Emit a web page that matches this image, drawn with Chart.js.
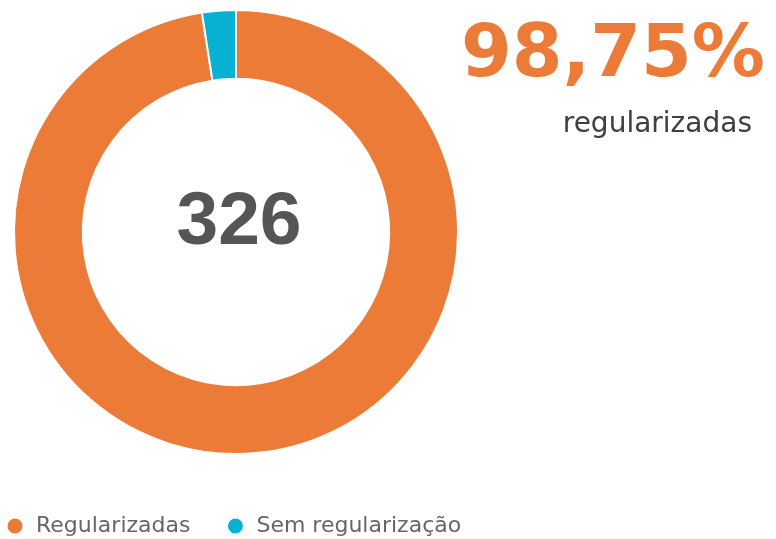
<!DOCTYPE html>
<html>
<head>
<meta charset="utf-8">
<script src="https://cdn.jsdelivr.net/npm/chart.js@4"></script>
<style>
  html, body { margin: 0; padding: 0; background: #fff; }
  body { width: 776px; height: 539px; overflow: hidden; position: relative; }
  #wrap { position: absolute; left: -30px; top: -16px; width: 532px; height: 563px; }
  #total {
    position: absolute; left: 139px; width: 200px; top: 181px;
    text-align: center; font: bold 75px "Liberation Sans", Arial, sans-serif;
    line-height: 1; color: #555;
  }
  #pct {
    position: absolute; right: 11px; top: 14px;
    font: bold 73px "DejaVu Sans", sans-serif; line-height: 1; color: #ED7B38;
    white-space: nowrap;
  }
  #pctLabel {
    position: absolute; right: 24px; top: 109px;
    font: 400 28px "DejaVu Sans", sans-serif; line-height: 1; color: #3b4046;
    white-space: nowrap;
  }
</style>
</head>
<body>
<div id="wrap"><canvas id="chart"></canvas></div>
<div id="total"></div>
<div id="pct">98,75%</div>
<div id="pctLabel">regularizadas</div>
<script>
const labels = ["Regularizadas", "Sem regularização"];
const values = [318, 8];
const colors = ["#ED7B38", "#08B0D2"];

document.getElementById("total").textContent = values.reduce((a, b) => a + b, 0);

const chart = new Chart(document.getElementById("chart"), {
  type: "doughnut",
  data: {
    labels: labels,
    datasets: [{
      data: values,
      backgroundColor: colors,
      borderColor: "#fff",
      borderWidth: 2,
    }],
  },
  options: {
    responsive: true,
    maintainAspectRatio: false,
    animation: false,
    radius: 222,
    cutout: "69%",
    layout: { padding: 0 },
    plugins: {
      tooltip: { enabled: false },
      legend: {
        position: "bottom",
        align: "start",
        labels: {
          usePointStyle: true,
          pointStyle: "circle",
          boxWidth: 20,
          boxHeight: 12,
          padding: 35,
          color: "#666",
          font: { family: "DejaVu Sans", size: 22 },
        },
      },
    },
  },
});
</script>
</body>
</html>
